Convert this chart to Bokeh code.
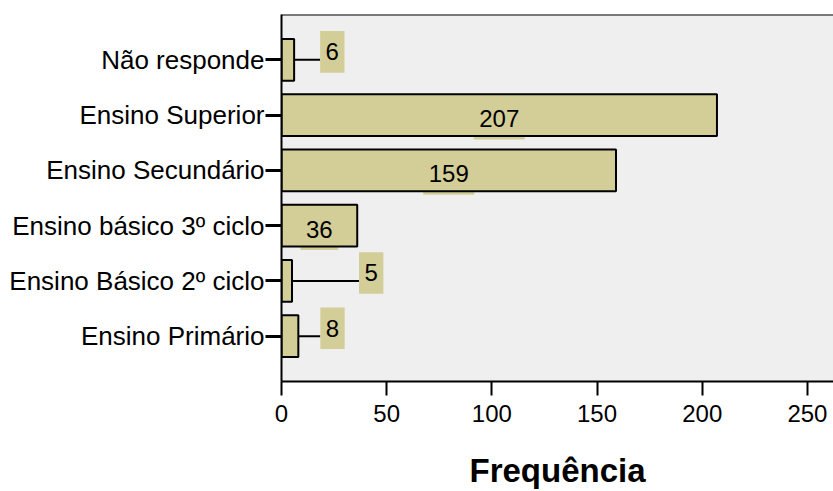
from bokeh.plotting import figure
from bokeh.models import Range1d, FixedTicker, Span, ColumnDataSource
from bokeh.core.properties import value
from bokeh.embed import file_html
from bokeh.resources import INLINE

# Data: education level and frequency (bottom to top)
categories = [
    "Ensino Primário",
    "Ensino Básico 2º ciclo",
    "Ensino básico 3º ciclo",
    "Ensino Secundário",
    "Ensino Superior",
    "Não responde",
]
counts = [8, 5, 36, 159, 207, 6]

# Layout / style
FONT = "Liberation Sans"
BAR_FILL = "#d3ce97"
BG = "#efefef"
W, H = 833, 491
LEFT, TOP, BOTTOM = 281, 14, 107
X_END = 262.4
Y_START, Y_END = -0.82, len(categories) - 1 + 0.82
BAR_H = 0.754
# leader length (px) for labels drawn outside short bars; None = label inside bar
callout_gap_px = [22, 67, None, None, None, 26]

frame_w = W - LEFT
frame_h = H - TOP - BOTTOM
px_x = frame_w / X_END            # pixels per data unit (x)
px_y = frame_h / (Y_END - Y_START)  # pixels per data unit (y)

ypos = list(range(len(categories)))

p = figure(
    width=W, height=H,
    x_range=Range1d(0, X_END), y_range=Range1d(Y_START, Y_END),
    output_backend="svg", toolbar_location=None,
    min_border_left=LEFT, min_border_top=TOP, min_border_bottom=BOTTOM,
    min_border_right=0,
)
p.border_fill_color = "white"
p.outline_line_color = None
p.background_fill_color = BG
p.grid.visible = False

# label boxes, leader lines and texts
inside = dict(x=[], y=[], w=[], t=[])
outside = dict(x=[], y=[], w=[], t=[], x0=[], x1=[], yl=[])
for c, yv, gap in zip(counts, ypos, callout_gap_px):
    txt = str(c)
    bw = 13.35 * len(txt) + 11
    if gap is None:
        inside["x"].append(c / 2)
        inside["y"].append(yv - 3.5 / px_y)
        inside["w"].append(bw)
        inside["t"].append(txt)
    else:
        x_left = c + gap / px_x
        outside["x0"].append(c)
        outside["x1"].append(x_left)
        outside["yl"].append(yv)
        outside["x"].append(x_left + bw / 2 / px_x)
        outside["y"].append(yv + 8 / px_y)
        outside["w"].append(bw)
        outside["t"].append(txt)

src_in = ColumnDataSource(inside)
src_out = ColumnDataSource(outside)

# boxes of inside labels sit behind the bars
p.rect(x="x", y="y", width="w", height=BAR_H, width_units="screen",
       source=src_in, fill_color=BAR_FILL, line_color=None)

# bars
p.hbar(y=ypos, right=counts, left=0, height=BAR_H,
       fill_color=BAR_FILL, line_color="black", line_width=2)

# callouts for short bars
p.segment(x0="x0", y0="yl", x1="x1", y1="yl", source=src_out,
          line_color="black", line_width=2)
p.rect(x="x", y="y", width="w", height=BAR_H, width_units="screen",
       source=src_out, fill_color=BAR_FILL, line_color=None)

text_kw = dict(text_font=value(FONT), text_font_size="24px",
               text_color="black", text_align="center", text_baseline="middle")
p.text(x="x", y="y", text="t", source=src_in, **text_kw)
p.text(x="x", y="y", text="t", source=src_out, **text_kw)

# top border of the plot area
p.add_layout(Span(location=Y_END, dimension="width", line_color="black",
                  line_width=2))

# axes
xa = p.xaxis[0]
xa.ticker = FixedTicker(ticks=[0, 50, 100, 150, 200, 250])
xa.axis_label = "Frequência"
xa.axis_label_text_font = FONT
xa.axis_label_text_font_style = "bold"
xa.axis_label_text_font_size = "33px"
xa.axis_label_text_color = "black"
xa.axis_label_standoff = 27
xa.major_label_text_font = FONT
xa.major_label_text_font_size = "24px"
xa.major_label_text_color = "black"
xa.major_label_standoff = 9
xa.axis_line_width = 2
xa.axis_line_color = "black"
xa.major_tick_line_width = 2
xa.major_tick_line_color = "black"
xa.major_tick_out = 14
xa.major_tick_in = 0
xa.minor_tick_line_color = None

ya = p.yaxis[0]
ya.ticker = FixedTicker(ticks=ypos)
ya.major_label_overrides = {i: c for i, c in zip(ypos, categories)}
ya.major_label_text_font = FONT
ya.major_label_text_font_size = "26px"
ya.major_label_text_color = "black"
ya.major_label_standoff = 1
ya.axis_line_width = 2
ya.axis_line_color = "black"
ya.major_tick_line_width = 3
ya.major_tick_line_color = "black"
ya.major_tick_out = 16
ya.major_tick_in = 0
ya.minor_tick_line_color = None

open("out.html", "w").write(file_html(p, INLINE))
